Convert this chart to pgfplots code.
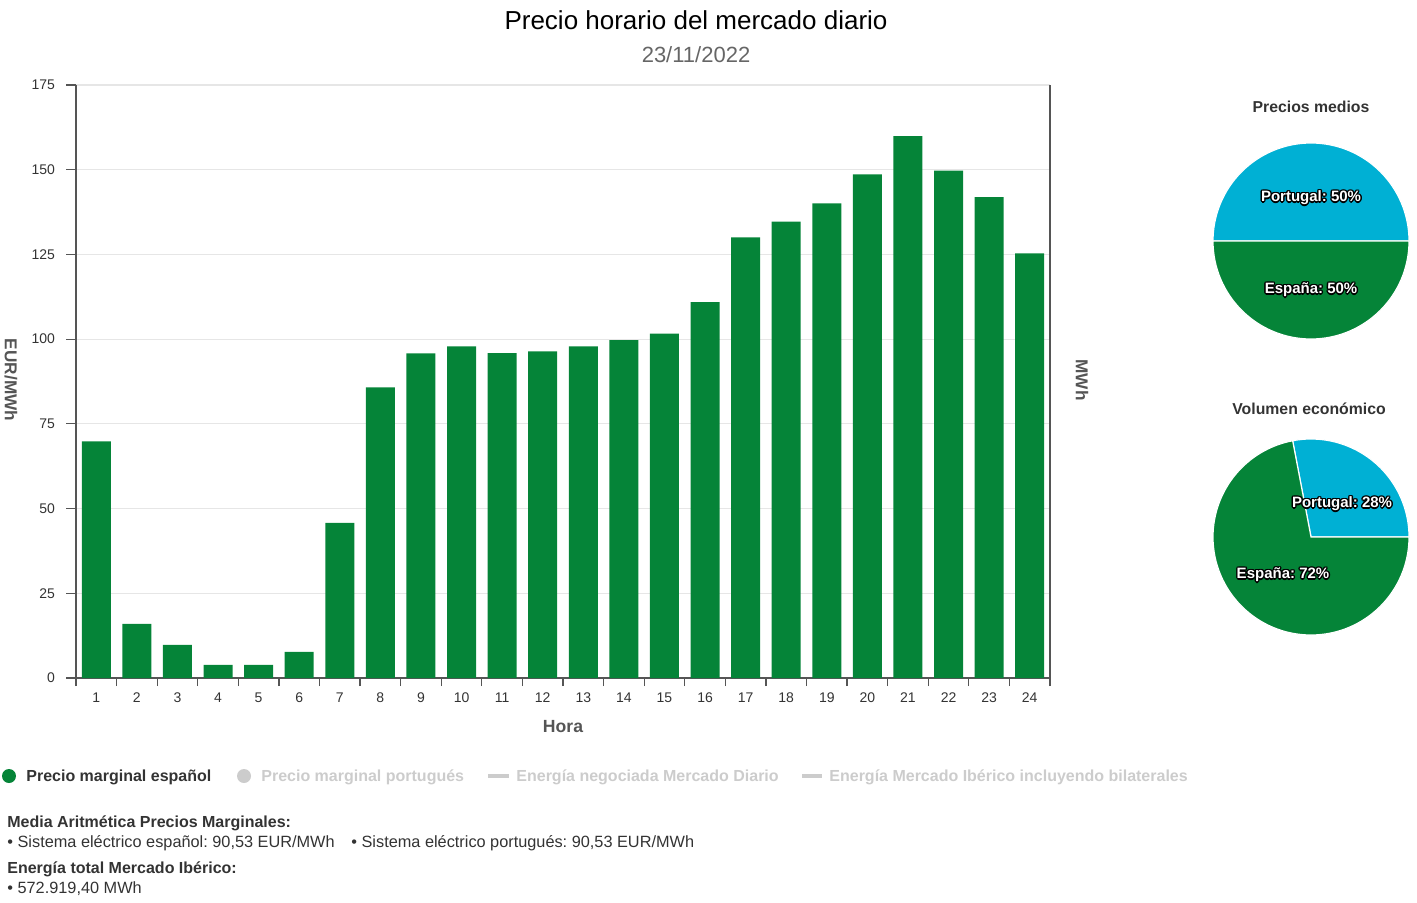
\documentclass[border=0pt]{standalone}
\usepackage{pgfplots}
\pgfplotsset{compat=1.18}
\usepackage{pgfplotstable}
\usepackage{fontspec}
\setmainfont{Liberation Sans}
\frenchspacing

\definecolor{verde}{RGB}{5,132,56}
\definecolor{azul}{RGB}{0,176,212}
\definecolor{txt}{RGB}{51,51,51}
\definecolor{subt}{RGB}{102,102,102}
\definecolor{apagado}{RGB}{204,204,204}
\definecolor{rejilla}{RGB}{230,230,230}
\definecolor{eje}{RGB}{85,85,85}

% precio marginal espanol, EUR/MWh
\pgfplotstableread{
hora precio
1  69.8
2  16.0
3  9.8
4  3.9
5  3.9
6  7.7
7  45.8
8  85.8
9  95.8
10 97.9
11 95.9
12 96.4
13 97.9
14 99.7
15 101.6
16 110.9
17 130.0
18 134.7
19 140.1
20 148.6
21 159.9
22 149.7
23 141.9
24 125.3
}\precios

% pies (percent Portugal)
\def\ptMedios{50}
\def\ptVolumen{28}
\pgfmathsetmacro\angMedios{3.6*\ptMedios}
\pgfmathsetmacro\angVolumen{3.6*\ptVolumen}

\newcommand\pielabel[3]{%
  \foreach \dx/\dy in {-0.7/0,0.7/0,0/-0.7,0/0.7,-0.5/-0.5,0.5/0.5,-0.5/0.5,0.5/-0.5}
    \node[font=\bfseries\fontsize{7.5}{8}\selectfont, text=black, inner sep=0] at ([xshift=\dx pt, yshift=\dy pt]#1,#2) {#3};
  \node[font=\bfseries\fontsize{7.5}{8}\selectfont, text=white, inner sep=0] at (#1,#2) {#3};}

\begin{document}
\begin{tikzpicture}
\useasboundingbox (0pt,0pt) rectangle (708.5pt,-451.5pt);

\begin{axis}[
    at={(38pt,-339pt)}, anchor=south west,
    scale only axis, width=487pt, height=296.5pt,
    xmin=0.5, xmax=24.5, ymin=0, ymax=175,
    axis x line*=bottom, axis y line*=box,
    ytick pos=left,
    ytick={0,25,...,175},
    xtick={1,...,24},
    minor xtick={0.5,1.5,...,24.5},
    major x tick style={draw=none},
    minor x tick style={eje, line width=0.6pt},
    minor tick length=4pt,
    major tick length=5pt,
    tick align=outside,
    ytick style={eje, line width=0.6pt},
    axis line style={eje, line width=0.7pt},
    ymajorgrids, grid style={rejilla, line width=0.6pt},
    tick label style={font=\fontsize{7}{8}\selectfont, text=txt},
    xticklabel style={yshift=1pt},
    yticklabel style={xshift=-2pt},
    /pgf/number format/assume math mode=true,
    clip=false,
]
\addplot[ybar, bar width=14.5pt, bar shift=0pt, fill=verde, draw=none]
    table[x=hora, y=precio]{\precios};
\end{axis}

% Precios medios
\begin{axis}[at={(655.5pt,-120.5pt)}, anchor=origin, hide axis, scale only axis,
    width=98pt, height=98pt, xmin=-1, xmax=1, ymin=-1, ymax=1, clip=false]
\addplot[draw=none] coordinates {(0,0)};
\fill[azul, draw=white, line width=0.6pt] (axis cs:0,0) -- (axis cs:1,0)
    arc[start angle=0, end angle=\angMedios, radius=49pt] -- cycle;
\fill[verde, draw=white, line width=0.6pt] (axis cs:0,0) -- (axis cs:1,0)
    arc[start angle=0, end angle=\angMedios-360, radius=49pt] -- cycle;
\end{axis}

% Volumen economico
\begin{axis}[at={(655.5pt,-268.5pt)}, anchor=origin, hide axis, scale only axis,
    width=98pt, height=98pt, xmin=-1, xmax=1, ymin=-1, ymax=1, clip=false]
\addplot[draw=none] coordinates {(0,0)};
\fill[azul, draw=white, line width=0.6pt] (axis cs:0,0) -- (axis cs:1,0)
    arc[start angle=0, end angle=\angVolumen, radius=49pt] -- cycle;
\fill[verde, draw=white, line width=0.6pt] (axis cs:0,0) -- (axis cs:1,0)
    arc[start angle=0, end angle=\angVolumen-360, radius=49pt] -- cycle;
\end{axis}

\begin{scope}[x=0.5pt, y=-0.5pt]
  \node[font=\fontsize{13}{15}\selectfont, text=black] at (696,20) {Precio horario del mercado diario};
  \node[font=\fontsize{11}{13}\selectfont, text=subt] at (696,55) {23/11/2022};
  \node[font=\bfseries\fontsize{8.6}{10}\selectfont, text=eje, rotate=-90] at (11,380) {EUR/MWh};
  \node[font=\bfseries\fontsize{8.6}{10}\selectfont, text=eje, rotate=-90] at (1082,380) {MWh};
  \node[font=\bfseries\fontsize{8.8}{10}\selectfont, text=eje] at (563,727) {Hora};

  \node[font=\bfseries\fontsize{7.9}{9}\selectfont, text=txt] at (1311,107) {Precios medios};
  \node[font=\bfseries\fontsize{7.9}{9}\selectfont, text=txt] at (1309,409) {Volumen económico};
  \pielabel{1311}{198}{Portugal: 50\%}
  \pielabel{1311}{290}{España: 50\%}
  \pielabel{1342}{504}{Portugal: 28\%}
  \pielabel{1283}{575}{España: 72\%}

  % legend
  \fill[verde] (9,776) circle[radius=7];
  \node[anchor=west, inner sep=0, font=\bfseries\fontsize{8}{9}\selectfont, text=txt] at (26,777) {Precio marginal español};
  \fill[apagado] (244,776) circle[radius=7];
  \node[anchor=west, inner sep=0, font=\bfseries\fontsize{8}{9}\selectfont, text=apagado] at (261,777) {Precio marginal portugués};
  \draw[apagado, line width=2pt] (488,776) -- (509,776);
  \node[anchor=west, inner sep=0, font=\bfseries\fontsize{8}{9}\selectfont, text=apagado] at (516,777) {Energía negociada Mercado Diario};
  \draw[apagado, line width=2pt] (802,776) -- (822,776);
  \node[anchor=west, inner sep=0, font=\bfseries\fontsize{8}{9}\selectfont, text=apagado] at (829,777) {Energía Mercado Ibérico incluyendo bilaterales};

  % notes
  \node[anchor=west, inner sep=0, font=\bfseries\fontsize{8}{9}\selectfont, text=txt] at (7,823) {Media Aritmética Precios Marginales:};
  \node[anchor=west, inner sep=0, font=\fontsize{8.15}{9}\selectfont, text=txt] at (7,843) {• Sistema eléctrico español: 90,53 EUR/MWh};
  \node[anchor=west, inner sep=0, font=\fontsize{8.15}{9}\selectfont, text=txt] at (351,843) {• Sistema eléctrico portugués: 90,53 EUR/MWh};
  \node[anchor=west, inner sep=0, font=\bfseries\fontsize{8}{9}\selectfont, text=txt] at (7,869) {Energía total Mercado Ibérico:};
  \node[anchor=west, inner sep=0, font=\fontsize{8.15}{9}\selectfont, text=txt] at (7,889) {• 572.919,40 MWh};
\end{scope}
\end{tikzpicture}
\end{document}
